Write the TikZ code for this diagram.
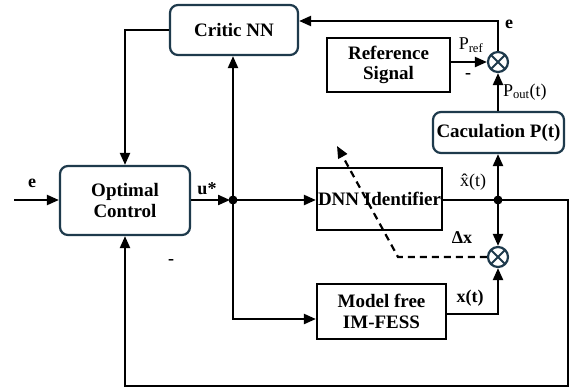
\documentclass[tikz,border=0pt]{standalone}
\usepackage{fontspec}
\setmainfont{Liberation Serif}
\usetikzlibrary{arrows.meta}

\definecolor{navy}{HTML}{1E3A4C}

\begin{document}
\begin{tikzpicture}[x=1pt,y=-1pt,
  line width=2.2pt,
  >={Triangle[length=12pt,width=10pt]},
  boxfont/.style={font=\fontsize{19}{20.5}\selectfont\bfseries},
  rbox/.style={draw=navy,rounded corners=8pt,inner sep=0pt,align=center,boxfont},
  sbox/.style={draw=black,inner sep=0pt,align=center,boxfont},
  sumj/.style={draw=navy,circle,minimum size=20pt,inner sep=0pt,
    path picture={
      \draw[navy,line width=1.8pt]
        (path picture bounding box.north west) -- (path picture bounding box.south east)
        (path picture bounding box.north east) -- (path picture bounding box.south west);}},
  dot/.style={circle,fill=black,minimum size=9pt,inner sep=0pt},
  lbl/.style={inner sep=0pt,font=\fontsize{18}{20}\selectfont\bfseries},
  slbl/.style={inner sep=0pt,font=\fontsize{18}{20}\selectfont},
]
\useasboundingbox[fill=white] (0,0) rectangle (572,388);

% blocks
\node[rbox,minimum width=128pt,minimum height=50pt] (critic) at (234,30) {Critic NN};
\node[rbox,minimum width=130pt,minimum height=69pt] (opt) at (125,200.5) {Optimal\\Control};
\node[sbox,minimum width=123pt,minimum height=54pt] (ref) at (388.5,65) {Reference\\Signal};
\node[rbox,minimum width=131pt,minimum height=41pt] (calc) at (498.5,132.5) {Caculation P(t)};
\node[sbox,minimum width=125pt,minimum height=62pt] (dnn) at (379.5,199) {DNN Identifier};
\node[sbox,minimum width=129pt,minimum height=55pt] (mf) at (381.5,311.5) {Model free\\IM-FESS};

% summing junctions
\node[sumj] (s1) at (498,62) {};
\node[sumj] (s2) at (498,257) {};

% helper coordinates
\coordinate (ein) at (14,200);
\coordinate (topy) at (0,21);
\coordinate (bot) at (568,386);
\coordinate (dtip) at (337,146);
\coordinate (dbend) at (398,257);
\coordinate (mfin) at (0,319);
\coordinate (mfout) at (0,314);
\coordinate (jp1) at (233,200);
\coordinate (jp2) at (498,200);

% connectors
\draw[->] (critic.west) -| (opt.north);
\draw[->] (s1.north) -- (s1.north |- topy) -- (critic.east |- topy);
\draw[->] (ref.east |- s1) -- (s1.west);
\draw[->] (calc.north -| s1) -- (s1.south);
\draw[->] (ein) -- (opt.west |- ein);
\draw[->] (opt.east |- jp1) -- ([xshift=-3pt]jp1);
\draw[->] (jp1) -- (jp1 |- critic.south);
\draw[->] (jp1) -- (dnn.west |- jp1);
\draw[->] (jp1) |- (mf.west |- mfin);
\draw (dnn.east |- jp2) -- (jp2);
\draw[->] (jp2) -- (calc.south -| jp2);
\draw[->] (jp2) -- (s2.north);
\draw[->] (mf.east |- mfout) -| (s2.south);
\draw[->] (jp2) -- (bot |- jp2) -- (bot) -- (opt.south |- bot) -- (opt.south);
\draw[->,dash pattern=on 7pt off 5pt] (s2.west) -- (dbend) -- (dtip);

% branch points
\node[dot] (j1) at (jp1) {};
\node[dot] (j2) at (jp2) {};

% signal labels
\node[lbl] (le) at (32,183) {e};
\node[lbl] (lu) at (207,189) {u*};
\node[lbl] (lm1) at (171,262) {-};
\node[lbl] (le2) at (509,24) {e};
\node[slbl] (lpref) at (471,45) {P\textsubscript{ref}};
\node[lbl] (lm2) at (468,76) {-};
\node[slbl,anchor=west] (lpout) at (502,92) {P\textsubscript{out}(t)};
\node[slbl] (lxh) at (473,182) {\^{x}(t)};
\node[lbl] (ldx) at (462,238) {Δx};
\node[lbl] (lx) at (470,298) {x(t)};
\end{tikzpicture}
\end{document}
